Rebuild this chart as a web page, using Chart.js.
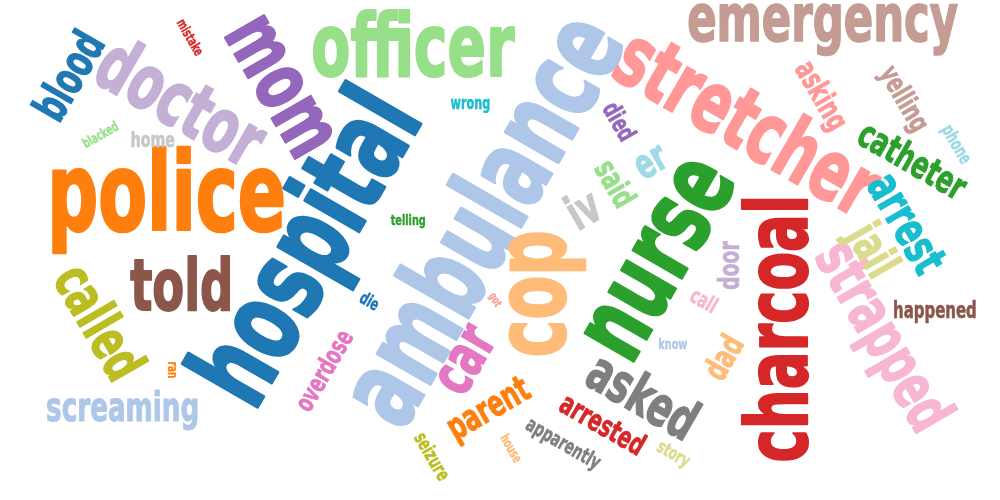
<!DOCTYPE html>
<html><head><meta charset="utf-8">
<script src="https://cdn.jsdelivr.net/npm/chart.js@4"></script>
<style>html,body{margin:0;padding:0;background:#fff;}#wrap{width:1000px;height:500px;position:relative;}</style>
</head><body><div id="wrap"><canvas id="c"></canvas></div>
<script>
// ---- data ----
const words = ['police','hospital','ambulance','officer','emergency','stretcher','doctor','mom','blood','mistake',
 'blacked','home','wrong','telling','died','er','said','iv','nurse','cop',
 'charcoal','strapped','arrest','catheter','jail','asking','yelling','phone','told','called',
 'ran','screaming','overdose','die','car','got','parent','seizure','house','apparently',
 'arrested','asked','story','know','dad','call','door','happened'];
const xs = [168,312,479,414,823,750,183,280,68,191,
 100,153,470,408,620,652,616,583,660,547,
 775,880,907,913,870,820,903,956,180,100,
 172,122,323,370,467,495,490,433,512,563,
 603,643,673,673,722,704,728,935];
const ys = [200,250,217,43,30,120,101,87,75,37,
 134,139,105,221,121,163,183,207,258,294,
 330,337,223,160,250,96,99,145,284,321,
 370,410,370,300,360,300,410,456,448,444,
 423,395,455,343,357,300,265,311];
const weights = [95,100,98,76,58,74,66,72,40,12,
 12,19,15,13,22,36,28,42,90,85,
 75,55,42,33,42,27,25,16,62,49,
 12,35,23,15,52,10,32,17,12,18,
 26,48,16,13,29,19,25,20];
const rotations = [0,-60,-60,0,0,30,30,60,-60,60,
 -30,0,0,0,60,-30,60,-30,-60,-90,
 -90,60,60,30,60,60,60,60,0,60,
 90,0,-60,30,-60,60,-30,60,60,30,
 30,30,30,0,-60,30,-90,0];
const colors = ['#ff7f0e','#1f77b4','#aec7e8','#98df8a','#c49c94','#ff9896','#c5b0d5','#9467bd','#1f77b4','#d62728',
 '#98df8a','#c7c7c7','#17becf','#2ca02c','#9467bd','#9edae5','#98df8a','#c7c7c7','#2ca02c','#ffbb78',
 '#d62728','#f7b6d2','#17becf','#2ca02c','#dbdb8d','#ff9896','#c49c94','#9edae5','#8c564b','#bcbd22',
 '#ff7f0e','#aec7e8','#e377c2','#1f77b4','#e377c2','#ff9896','#ff7f0e','#bcbd22','#ffbb78','#7f7f7f',
 '#d62728','#7f7f7f','#dbdb8d','#aec7e8','#ffbb78','#f7b6d2','#c5b0d5','#8c564b'];

// ---- style calibration (Impact-like look with available fonts) ----
const IMPACT_XH = 0.63;        // x-height per em
const IMPACT_POLICE_W = 2.42;  // visual width of "police" per em

function pickFont(ctx){
  const cands = ['DejaVu Sans Condensed','Liberation Sans Narrow','DejaVu Sans'];
  for (const f of cands){
    ctx.font = `bold 100px "${f}", monospace`; const a = ctx.measureText('policeabcw').width;
    ctx.font = 'bold 100px monospace'; const b = ctx.measureText('policeabcw').width;
    if (Math.abs(a-b) > 1) return f;
  }
  return 'sans-serif';
}

const wordPlugin = {
  id: 'wordcloud',
  afterDatasetsDraw(chart){
    const ctx = chart.ctx;
    const fam = pickFont(ctx);
    ctx.font = `bold 100px "${fam}"`;
    const xh = ctx.measureText('x').actualBoundingBoxAscent / 100;
    const pxScale = IMPACT_XH / xh;
    ctx.font = `bold ${100*pxScale}px "${fam}"`;
    const mp = ctx.measureText('police');
    const squeeze = (100*IMPACT_POLICE_W) / (mp.actualBoundingBoxLeft + mp.actualBoundingBoxRight);
    const meta = chart.getDatasetMeta(0);
    meta.data.forEach((el, i) => {
      const px = weights[i] * pxScale;
      ctx.save();
      ctx.font = `bold ${px}px "${fam}"`;
      const m = ctx.measureText(words[i]);
      const cx = (m.actualBoundingBoxRight - m.actualBoundingBoxLeft) / 2;
      const cy = (m.actualBoundingBoxDescent - m.actualBoundingBoxAscent) / 2;
      ctx.translate(el.x, el.y);
      ctx.rotate(rotations[i] * Math.PI / 180);
      ctx.scale(squeeze, 1);
      ctx.fillStyle = colors[i];
      ctx.strokeStyle = colors[i];
      ctx.lineJoin = 'round';
      ctx.lineWidth = px * 0.025;
      ctx.textAlign = 'left';
      ctx.textBaseline = 'alphabetic';
      ctx.fillText(words[i], -cx, -cy);
      ctx.strokeText(words[i], -cx, -cy);
      ctx.restore();
    });
  }
};

new Chart(document.getElementById('c'), {
  type: 'scatter',
  data: { datasets: [{ data: words.map((w,i) => ({x: xs[i], y: ys[i]})), pointRadius: 0, pointHoverRadius: 0 }] },
  options: {
    responsive: true, maintainAspectRatio: false, animation: false,
    layout: { padding: 0 },
    events: [],
    plugins: { legend: { display: false }, tooltip: { enabled: false } },
    scales: {
      x: { type: 'linear', min: 0, max: 1000, display: false },
      y: { type: 'linear', min: 0, max: 500, reverse: true, display: false }
    }
  },
  plugins: [wordPlugin]
});
</script></body></html>
